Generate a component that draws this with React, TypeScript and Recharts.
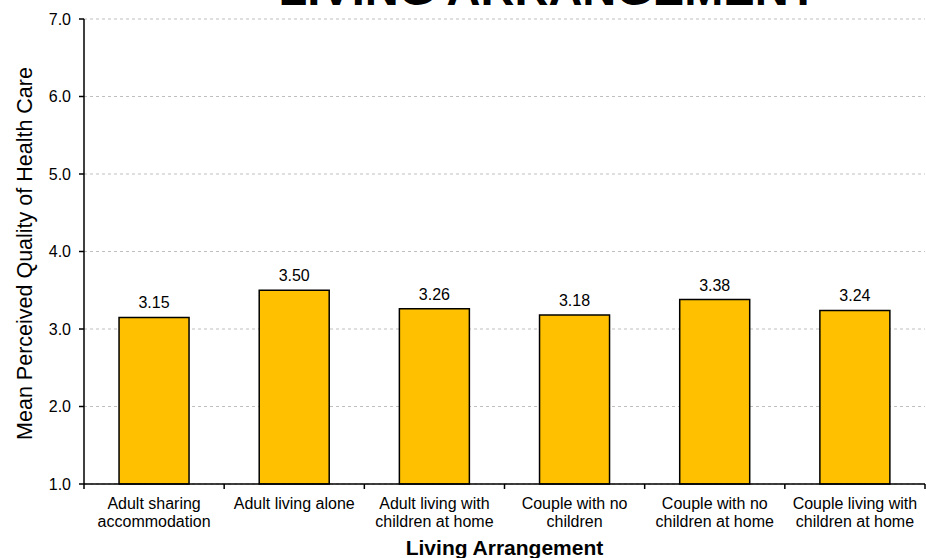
import React from "react";
import { BarChart, Bar, XAxis, YAxis, CartesianGrid, LabelList } from "recharts";

const categories = [
  "Adult sharing\naccommodation",
  "Adult living alone",
  "Adult living with\nchildren at home",
  "Couple with no\nchildren",
  "Couple with no\nchildren at home",
  "Couple living with\nchildren at home",
];
const meanValues = [3.15, 3.5, 3.26, 3.18, 3.38, 3.24];
const yTicks = [1, 2, 3, 4, 5, 6, 7];
const title = "LIVING ARRANGEMENT";
const xTitle = "Living Arrangement";
const yTitle = "Mean Perceived Quality of Health Care";

const data = categories.map((c, i) => ({ name: c, value: meanValues[i] }));

const W = 926;
const H = 558;
const MARGIN = { top: 19, right: 1, bottom: 0, left: 0 };
const Y_AXIS_W = 84;
const X_AXIS_H = 74;
const PLOT_W = W - MARGIN.left - MARGIN.right - Y_AXIS_W;
const HALF_BAND = PLOT_W / categories.length / 2;
const FONT = '"Liberation Sans", Arial, sans-serif';

const XTick = (props: any) => {
  const { x, y, payload, index, visibleTicksCount } = props;
  const lines = String(payload.value).split("\n");
  return (
    <g>
      <line x1={x - HALF_BAND} x2={x - HALF_BAND} y1={y} y2={y + 5} stroke="#000" strokeWidth={1.5} />
      {index === visibleTicksCount - 1 && (
        <line x1={x + HALF_BAND} x2={x + HALF_BAND} y1={y} y2={y + 5} stroke="#000" strokeWidth={1.5} />
      )}
      <text textAnchor="middle" fontFamily={FONT} fontSize={16} fill="#000">
        {lines.map((l, i) => (
          <tspan key={i} x={x} y={y + 25 + i * 18}>
            {l}
          </tspan>
        ))}
      </text>
    </g>
  );
};

const YTitle = (props: any) => {
  const vb = props.viewBox;
  const cy = vb.y + vb.height / 2 + 2;
  return (
    <text
      x={32}
      y={cy}
      transform={`rotate(-90 32 ${cy})`}
      textAnchor="middle"
      fontFamily={FONT}
      fontSize={21.5}
      fill="#000"
    >
      {yTitle}
    </text>
  );
};

const XTitle = (props: any) => {
  const vb = props.viewBox;
  return (
    <text
      x={vb.x + vb.width / 2}
      y={vb.y + 71}
      textAnchor="middle"
      fontFamily={FONT}
      fontSize={21}
      fontWeight="bold"
      fill="#000"
    >
      {xTitle}
    </text>
  );
};

export default function App() {
  return (
    <div style={{ position: "absolute", left: 0, top: 0, width: W, height: H, background: "#fff" }}>
      <BarChart width={W} height={H} data={data} margin={MARGIN} barCategoryGap="25%">
        <CartesianGrid vertical={false} stroke="#BFBFBF" strokeDasharray="3 3" />
        <XAxis
          dataKey="name"
          height={X_AXIS_H}
          interval={0}
          tickLine={false}
          tickSize={0}
          tickMargin={0}
          axisLine={{ stroke: "#000", strokeWidth: 1.5 }}
          tick={<XTick />}
          label={<XTitle />}
        />
        <YAxis
          width={Y_AXIS_W}
          domain={[1, 7]}
          ticks={yTicks}
          interval={0}
          tickFormatter={(v: number) => v.toFixed(1)}
          tickSize={5}
          tickMargin={8}
          tickLine={{ stroke: "#000", strokeWidth: 1.5 }}
          axisLine={{ stroke: "#000", strokeWidth: 1.5 }}
          tick={{ fill: "#000", fontSize: 16, fontFamily: FONT }}
          label={<YTitle />}
        />
        <Bar dataKey="value" fill="#FFC000" stroke="#000" strokeWidth={1.5} isAnimationActive={false}>
          <LabelList
            dataKey="value"
            position="top"
            offset={9}
            formatter={(v: any) => Number(v).toFixed(2)}
            fill="#000"
            fontSize={16}
            fontFamily={FONT}
          />
        </Bar>
      </BarChart>
      <svg width={W} height={H} style={{ position: "absolute", left: 0, top: 0, pointerEvents: "none" }}>
        <text x={548} y={5} textAnchor="middle" fontFamily={FONT} fontSize={47} fontWeight="bold" fill="#000">
          {title}
        </text>
      </svg>
    </div>
  );
}
